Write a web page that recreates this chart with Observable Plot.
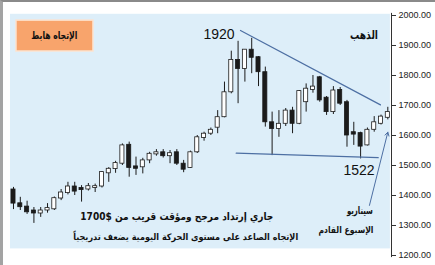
<!DOCTYPE html>
<html><head><meta charset="utf-8">
<script src="https://cdn.jsdelivr.net/npm/d3@7"></script>
<script src="https://cdn.jsdelivr.net/npm/@observablehq/plot@0.6"></script>
<style>
html,body{margin:0;padding:0;background:#fff;}
#wrap{position:relative;width:435px;height:265px;overflow:hidden;}
#border{position:absolute;left:0;top:0;width:435px;height:265px;box-sizing:border-box;border-left:3px solid #a3a3a3;border-top:2px solid #8a8a8a;pointer-events:none;}
#wrap svg{position:absolute;left:0;top:0;}
</style></head>
<body><div id="wrap"><div id="border"></div></div>
<script>
// Weekly gold candles (USD)
const opens  = [1420,1374,1363,1350,1340,1350,1354,1390,1408,1430,1423,1420,1427,1430,1474,1488,1506,1569,1497,1494,1517,1537,1544,1531,1544,1506,1492,1544,1592,1606,1626,1661,1744,1852,1822,1886,1861,1811,1644,1622,1639,1683,1639,1711,1752,1794,1726,1678,1752,1711,1611,1608,1567,1619,1639,1659];
const highs  = [1427,1394,1381,1360,1360,1373,1395,1420,1444,1444,1433,1440,1438,1480,1493,1514,1572,1578,1528,1524,1544,1553,1553,1550,1553,1517,1548,1600,1611,1625,1683,1778,1881,1914,1886,1924,1863,1828,1678,1683,1690,1694,1750,1772,1800,1797,1730,1763,1760,1717,1644,1611,1625,1663,1668,1694];
const lows   = [1353,1350,1337,1307,1327,1341,1350,1383,1402,1400,1378,1415,1410,1425,1444,1474,1500,1461,1467,1472,1506,1531,1525,1506,1500,1476,1490,1540,1581,1600,1606,1659,1739,1706,1778,1806,1763,1628,1533,1594,1630,1606,1636,1678,1741,1711,1667,1670,1700,1561,1567,1522,1565,1611,1635,1652];
const closes = [1373,1361,1344,1340,1350,1358,1391,1410,1430,1413,1420,1431,1429,1478,1489,1508,1567,1492,1489,1517,1539,1544,1531,1541,1506,1486,1544,1594,1606,1619,1661,1744,1852,1822,1886,1859,1811,1644,1622,1639,1683,1639,1748,1756,1763,1717,1678,1750,1706,1600,1603,1563,1619,1644,1663,1678];
const yTicks = [1200,1300,1400,1500,1600,1700,1800,1900,2000];

// Annotation data (candle index, price)
const resistance = [{i:33.35,p:1950},{i:53.92,p:1702}];
const support    = [{i:32.72,p:1541},{i:53.59,p:1526}];
const scenarioArrow = [{i1:52.3,p1:1367,i2:55.0,p2:1611}];
const trendBox = [{i1:0.44,i2:11.75,p1:1880,p2:1983}];
const panel = [{i1:-0.44,i2:55.38,p1:1222,p2:2004}];
const numLabels = [{i:30.2,p:1935,t:"1920"},{i:50.76,p:1483,t:"1522"}];
const arLabels = [
  {i:6.0,p:1934,t:"الإتجاه هابط"},
  {i:51.5,p:1935,t:"الذهب"},
  {i:24.0,p:1330,t:"جاري إرتداد مرجح ومؤقت قريب من \u202A1700$\u202C"},
  {i:25.3,p:1260,t:"الإتجاه الصاعد على مستوى الحركة اليومية يضعف تدريجياً"},
  {i:50.9,p:1350,t:"سيناريو"},
  {i:48.85,p:1283,t:"الإسبوع القادم"}
];
// font sizes and rendered widths (px) of the Arabic labels, in the same order
const arSizes  = [11,12,10.5,9,10.5,9];
const arWidths = [46,28,193,225,26,55];

const candles = opens.map((o,i)=>({i,o,h:highs[i],l:lows[i],c:closes[i]}));
const ink = "#1b1b1b";
const blue = "#4d6fa3";

const chart = Plot.plot({
  width:435, height:265,
  marginLeft:10, marginRight:44, marginTop:15, marginBottom:10,
  style:{background:"transparent", overflow:"visible"},
  x:{domain:[-0.44,55.54], axis:null},
  y:{domain:[1200,2000]},
  marks:[
    Plot.rect(panel,{x1:"i1",x2:"i2",y1:"p1",y2:"p2",fill:"#ddeef9"}),
    Plot.rect(trendBox,{x1:"i1",x2:"i2",y1:"p1",y2:"p2",fill:"#f8a46c",stroke:"#fde3cf",strokeWidth:1.5}),
    Plot.ruleX([55.54],{y1:1193,y2:2007,stroke:"#333",strokeWidth:1}),
    Plot.axisY({anchor:"right",ticks:yTicks,tickFormat:d3.format(".2f"),tickSize:4,tickPadding:3,fontSize:9,stroke:"#333",fill:"#222",label:null,fontFamily:"Liberation Sans"}),
    Plot.ruleX(candles,{x:"i",y1:"l",y2:"h",stroke:ink,strokeWidth:1}),
    Plot.rect(candles,{x1:d=>d.i-0.3,x2:d=>d.i+0.3,
      y1:d=>Math.min(d.o,d.c)-(Math.abs(d.o-d.c)<4?2:0),
      y2:d=>Math.max(d.o,d.c)+(Math.abs(d.o-d.c)<4?2:0),
      fill:d=>d.c<d.o?ink:"#fff",stroke:ink,strokeWidth:0.8}),
    Plot.line(resistance,{x:"i",y:"p",stroke:blue,strokeWidth:1.2}),
    Plot.line(support,{x:"i",y:"p",stroke:blue,strokeWidth:1.2}),
    Plot.arrow(scenarioArrow,{x1:"i1",y1:"p1",x2:"i2",y2:"p2",stroke:blue,strokeWidth:1,headLength:6,bend:0}),
    Plot.text(numLabels,{x:"i",y:"p",text:"t",fontSize:14,fill:"#111",fontFamily:"Liberation Sans Narrow, Liberation Sans, sans-serif",textAnchor:"middle",lineAnchor:"middle"}),
    Plot.text(arLabels,{x:"i",y:"p",text:"t",fontSize:(d,k)=>arSizes[k],fill:"#111",fontWeight:"bold",fontFamily:"DejaVu Sans, sans-serif",textAnchor:"middle",lineAnchor:"middle",className:"ar"})
  ]
});
// right-to-left direction and fitted widths for the Arabic labels
chart.querySelectorAll("text").forEach(el=>{
  const k = arLabels.findIndex(d=>d.t===el.textContent);
  if (k>=0) {
    el.setAttribute("direction","rtl");
    el.style.direction = "rtl";
    el.setAttribute("textLength", arWidths[k]);
    el.setAttribute("lengthAdjust","spacingAndGlyphs");
  }
});
document.getElementById("wrap").insertBefore(chart, document.getElementById("border"));
</script>
</body></html>
